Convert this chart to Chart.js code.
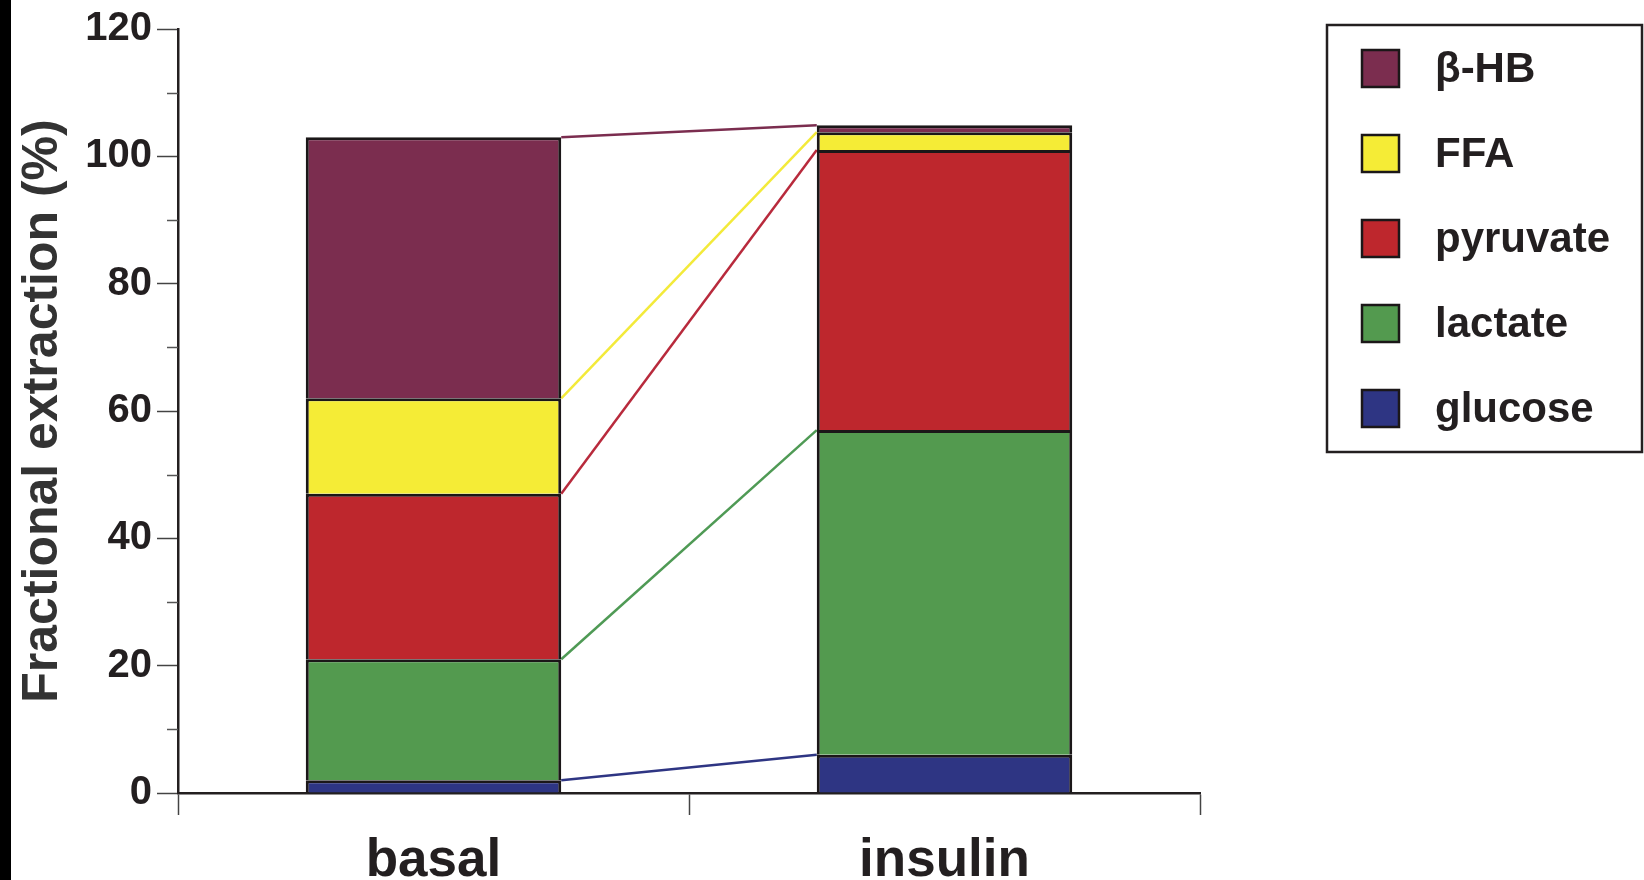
<!DOCTYPE html>
<html>
<head>
<meta charset="utf-8">
<title>Fractional extraction</title>
<script src="https://cdn.jsdelivr.net/npm/chart.js@4.4.1/dist/chart.umd.min.js"></script>
<style>
  html, body { margin: 0; padding: 0; background: #fff; }
  #wrap { position: relative; width: 1644px; height: 880px; }
  #edge { position: absolute; left: 0; top: 0; width: 11px; height: 880px; background: #000; }
</style>
</head>
<body>
<div id="wrap">
  <canvas id="extractionChart" width="1644" height="880"></canvas>
  <div id="edge"></div>
</div>
<script>
// groups on the x axis
const groups = ['basal', 'insulin'];

// fractional extraction (%) per substrate, stacked bottom to top
const glucose  = [2, 6];
const lactate  = [19, 51];
const pyruvate = [26, 44];
const ffa      = [15, 2.8];
const betaHB   = [41, 1.1];

const yTicks      = [0, 20, 40, 60, 80, 100, 120];
const yMinorTicks = [10, 30, 50, 70, 90, 110];

const ink = '#231f20';
const fontFamily = '"Liberation Sans", Arial, Helvetica, sans-serif';

function layer(label, data, fill, link) {
  return {
    label,
    data,
    backgroundColor: fill,
    linkColor: link,
    borderColor: '#1b1718',
    borderWidth: 3,
    borderSkipped: 'start',
    barPercentage: 0.5,
    categoryPercentage: 1.0
  };
}

// lines joining the top of each layer between neighbouring bars
const stackLinks = {
  id: 'stackLinks',
  beforeDatasetsDraw(chart) {
    const ctx = chart.ctx;
    ctx.save();
    ctx.lineWidth = 2.5;
    chart.data.datasets.forEach((ds, i) => {
      const bars = chart.getDatasetMeta(i).data;
      for (let k = 0; k < bars.length - 1; k++) {
        const a = bars[k], b = bars[k + 1];
        ctx.strokeStyle = ds.linkColor;
        ctx.beginPath();
        ctx.moveTo(a.x + a.width / 2, a.y);
        ctx.lineTo(b.x - b.width / 2, b.y);
        ctx.stroke();
      }
    });
    ctx.restore();
  }
};

// short unlabelled ticks between the major ones
const minorTicks = {
  id: 'minorTicks',
  afterDraw(chart) {
    const y = chart.scales.y;
    const ctx = chart.ctx;
    ctx.save();
    ctx.strokeStyle = '#555';
    ctx.lineWidth = 1.5;
    yMinorTicks.forEach(v => {
      const py = Math.round(y.getPixelForValue(v)) + 0.5;
      ctx.beginPath();
      ctx.moveTo(y.right - 11, py);
      ctx.lineTo(y.right, py);
      ctx.stroke();
    });
    ctx.restore();
  }
};

// boxed legend on the right, top layer first
const legendBox = {
  id: 'legendBox',
  afterDraw(chart) {
    const ctx = chart.ctx;
    ctx.save();
    ctx.lineWidth = 2.5;
    ctx.strokeStyle = ink;
    ctx.strokeRect(1327, 25, 315, 427);
    ctx.font = 'bold 42px ' + fontFamily;
    ctx.textBaseline = 'middle';
    const sets = chart.data.datasets.slice().reverse();
    sets.forEach((ds, i) => {
      const top = 50 + i * 85;
      ctx.fillStyle = ds.backgroundColor;
      ctx.fillRect(1362, top, 37, 37);
      ctx.strokeStyle = '#1b1718';
      ctx.strokeRect(1362, top, 37, 37);
      ctx.fillStyle = ink;
      ctx.fillText(ds.label, 1435, top + 20);
    });
    ctx.restore();
  }
};

const ctx = document.getElementById('extractionChart').getContext('2d');
new Chart(ctx, {
  type: 'bar',
  data: {
    labels: groups,
    datasets: [
      layer('glucose',  glucose,  '#2e3583', '#2e3583'),
      layer('lactate',  lactate,  '#539a4f', '#4f9a55'),
      layer('pyruvate', pyruvate, '#be272d', '#b82a3c'),
      layer('FFA',      ffa,      '#f5ec36', '#f3ea3a'),
      layer('β-HB',     betaHB,   '#7b2d4f', '#7b2d4f')
    ]
  },
  options: {
    responsive: false,
    animation: false,
    devicePixelRatio: 1,
    layout: { padding: { left: 12, top: 17, right: 444, bottom: 0 } },
    plugins: {
      legend: { display: false },
      tooltip: { enabled: false }
    },
    scales: {
      x: {
        stacked: true,
        afterFit: s => { s.height = 87; },
        grid: {
          offset: true,
          drawOnChartArea: false,
          drawTicks: true,
          tickLength: 22,
          tickColor: '#444',
          tickWidth: 1.5
        },
        border: { display: true, color: ink, width: 2.5 },
        ticks: {
          color: ink,
          padding: 15,
          font: { family: fontFamily, size: 53, weight: 'bold' }
        }
      },
      y: {
        stacked: true,
        min: 0,
        max: 120,
        afterFit: s => { s.width = 166; },
        afterBuildTicks: s => { s.ticks = yTicks.map(v => ({ value: v })); },
        grid: {
          drawOnChartArea: false,
          drawTicks: true,
          tickLength: 21,
          tickColor: '#444',
          tickWidth: 1.5
        },
        border: { display: true, color: ink, width: 2.5 },
        ticks: {
          color: ink,
          padding: 5,
          font: { family: fontFamily, size: 40, weight: 'bold' }
        },
        title: {
          display: true,
          text: 'Fractional extraction (%)',
          color: '#333',
          padding: { top: 1, bottom: 0 },
          font: { family: fontFamily, size: 50, weight: 'bold' }
        }
      }
    }
  },
  plugins: [stackLinks, minorTicks, legendBox]
});
</script>
</body>
</html>
